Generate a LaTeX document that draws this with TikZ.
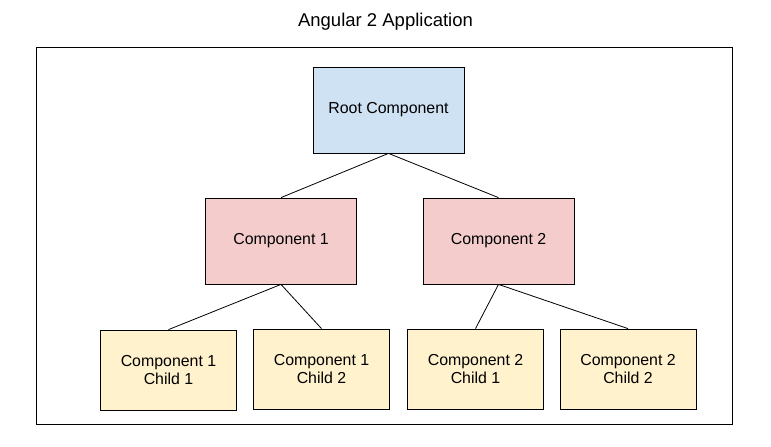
\documentclass[tikz,border=0pt]{standalone}
\usepackage{fontspec}
\setmainfont{Liberation Sans}
\usepackage{xcolor}
\usetikzlibrary{positioning}
\definecolor{rootcolor}{HTML}{CFE2F3}
\definecolor{compcolor}{HTML}{F4CCCC}
\definecolor{childcolor}{HTML}{FFF2CC}
\tikzset{
	box/.style={
		,draw			= black
		,line width		= 0.8pt
		,rectangle
		,align			= center
		,inner sep		= 0pt
		,font			= \fontsize{15.9}{18.4}\selectfont
	}
	,rootbox/.style	 = {box, fill = rootcolor, minimum width = 151pt, minimum height = 86pt}
	,compbox/.style	 = {box, fill = compcolor, minimum width = 151pt, minimum height = 86pt}
	,childbox/.style = {box, fill = childcolor, minimum width = 136pt, minimum height = 80pt}
	,link/.style	 = {draw = black, line width = 0.8pt}
}

\begin{document}
\begin{tikzpicture}[x=1pt,y=-1pt]
	\useasboundingbox (0,0) rectangle (771,447);

	% the frame and its title
	\node[anchor=base, font=\fontsize{18.5}{22}\selectfont] (title) at (385.5,27) {Angular 2 Application};
	\draw[line width=0.8pt] (36.5,47) rectangle (732.5,424);

	% the components
	\node[rootbox] (root) at (388.5,110) {Root Component};

	\node[compbox] (comp1) at (281,241) {Component 1};
	\node[compbox] (comp2) at (498.5,241) {Component 2};

	\node[childbox] (comp1child1) at (168.5,370) {Component 1\\Child 1};
	\node[childbox] (comp1child2) at (321.5,369) {Component 1\\Child 2};
	\node[childbox] (comp2child1) at (475.5,369) {Component 2\\Child 1};
	\node[childbox] (comp2child2) at (628,369) {Component 2\\Child 2};

	% the links
	\foreach \child in {comp1,comp2}{
		\draw[link] (root.south) -- (\child.north);
	}
	\foreach \parent in {comp1,comp2}{
		\foreach \n in {1,2}{
			\draw[link] (\parent.south) -- (\parent child\n.north);
		}
	}
\end{tikzpicture}
\end{document}
